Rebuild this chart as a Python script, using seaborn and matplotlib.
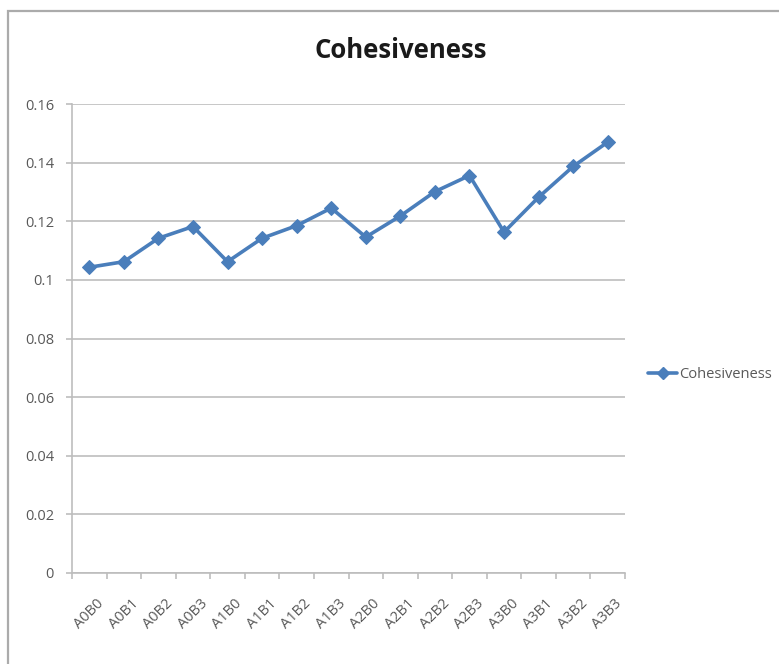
import matplotlib
matplotlib.use("Agg")
import matplotlib.pyplot as plt
import matplotlib.transforms as mtrans
from matplotlib.patches import Rectangle
from matplotlib.lines import Line2D
from matplotlib.ticker import FixedLocator
import seaborn as sns
import pandas as pd
import numpy as np

# Sample groups and their cohesiveness scores
categories = ["A0B0", "A0B1", "A0B2", "A0B3",
              "A1B0", "A1B1", "A1B2", "A1B3",
              "A2B0", "A2B1", "A2B2", "A2B3",
              "A3B0", "A3B1", "A3B2", "A3B3"]
cohesiveness = [0.1043, 0.1062, 0.1142, 0.1182,
                0.1062, 0.1142, 0.1185, 0.1245,
                0.1146, 0.1218, 0.1301, 0.1356,
                0.1163, 0.1282, 0.1387, 0.1470]
y_ticks = [0, 0.02, 0.04, 0.06, 0.08, 0.1, 0.12, 0.14, 0.16]
y_tick_labels = ["0", "0.02", "0.04", "0.06", "0.08", "0.1", "0.12", "0.14", "0.16"]
series_name = "Cohesiveness"

df = pd.DataFrame({"group": categories, "value": cohesiveness, "series": series_name})
df["pos"] = np.arange(len(categories))

sns.set_theme(style="white")
plt.rcParams["font.family"] = ["Open Sans", "DejaVu Sans"]

W, H = 779, 664
fig = plt.figure(figsize=(W / 100, H / 100), dpi=100)
ax = fig.add_axes([72 / W, 1 - 573 / H, (625 - 72) / W, (573 - 104) / H])

line_color = "#4A7EBB"
grid_color = "#BDBDBD"
text_color = "#595959"

sns.lineplot(data=df, x="pos", y="value", hue="series", palette=[line_color],
             marker="D", markersize=7, markeredgecolor=line_color,
             linewidth=2.6, sort=False, ax=ax, legend=False)

ax.set_xlim(-0.5, len(categories) - 0.5)
ax.set_ylim(0, 0.16)
ax.set_yticks(y_ticks)
ax.set_yticklabels(y_tick_labels, color=text_color, fontsize=10.5)
ax.yaxis.grid(True, color=grid_color, linewidth=1.2)
ax.set_axisbelow(True)

ax.set_xticks(np.arange(len(categories)))
ax.set_xticklabels(categories, rotation=45, ha="right", rotation_mode="anchor",
                   color=text_color, fontsize=10.5)
ax.xaxis.set_minor_locator(FixedLocator(np.arange(-0.5, len(categories), 1.0)))
ax.tick_params(axis="x", which="major", length=0, pad=17)
ax.tick_params(axis="x", which="minor", length=4, color=grid_color, width=1.2,
               direction="out", bottom=True)
ax.tick_params(axis="y", length=4, color=grid_color, width=1.2, direction="out",
               left=True, pad=9)
offset = mtrans.ScaledTranslation(5 / 72, 0, fig.dpi_scale_trans)
for lbl in ax.get_xticklabels():
    lbl.set_transform(lbl.get_transform() + offset)

ax.set_xlabel("")
ax.set_ylabel("")
for side in ["top", "right"]:
    ax.spines[side].set_visible(False)
for side in ["left", "bottom"]:
    ax.spines[side].set_color(grid_color)
    ax.spines[side].set_linewidth(1.2)

fig.text(401 / W, 1 - 50 / H, "Cohesiveness", ha="center", va="center",
         fontsize=18.5, fontweight="bold", color="#1A1A1A",
         family=["Open Sans", "DejaVu Sans"])

# Legend on the right
handle = Line2D([0], [0], color=line_color, linewidth=2.6, marker="D",
                markersize=6, markeredgecolor=line_color)
fig.legend([handle], [series_name], loc="center left",
           bbox_to_anchor=(648 / W, 1 - 375 / H), frameon=False,
           fontsize=10.5, labelcolor=text_color, handlelength=2.0,
           handletextpad=0.15, borderaxespad=0, borderpad=0)

# Chart frame
fig.patches.append(Rectangle((8 / W, -0.1), 1.2, 1 - 11 / H + 0.1,
                             transform=fig.transFigure, fill=False,
                             edgecolor="#ABABAB", linewidth=1.6))

fig.savefig("out.png", dpi=100)
